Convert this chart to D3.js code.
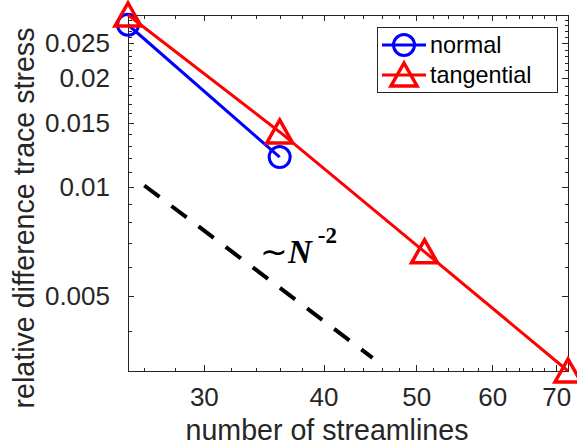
<!DOCTYPE html>
<html>
<head>
<meta charset="utf-8">
<script src="https://cdn.jsdelivr.net/npm/d3@7"></script>
<style>
  body { margin: 0; background: #fff; }
  svg { font-family: "Liberation Sans", Arial, Helvetica, sans-serif; }
  .axis path, .axis line { stroke: #262626; shape-rendering: crispEdges; }
  .axis text { fill: #262626; }
</style>
</head>
<body>
<div id="vis"></div>
<script>
var width = 577;
var height = 448;

// data
var nNormal = [25, 36];
var normalVals = [0.0281, 0.0121];
var nTangential = [25, 36, 51, 72];
var tangentialVals = [0.0299, 0.0142, 0.00662, 0.0031];
// reference slope line ~N^-2
var nGuide = [26, 45];
var guideVals = [0.0101, 0.00337];

// ticks
var xMajor = [30, 40, 50, 60, 70];
var xMinor = [26, 28, 32, 34, 36, 38, 42, 44, 46, 48, 52, 54, 56, 58, 62, 64, 66, 68];
var yMajor = [0.005, 0.01, 0.015, 0.02, 0.025];
var yMinor = [0.004, 0.006, 0.007, 0.008, 0.009, 0.011, 0.012, 0.013, 0.014,
    0.016, 0.017, 0.018, 0.019, 0.021, 0.022, 0.023, 0.024, 0.026, 0.027, 0.028, 0.029];

var plotLeft = 128, plotRight = 568, plotTop = 15, plotBottom = 371;

var x = d3.scaleLog().domain([25, 72]).range([plotLeft, plotRight]);
var y = d3.scaleLog().domain([0.0031, 0.0299]).range([plotBottom, plotTop]);

var svg = d3.select('#vis')
    .append('svg')
    .attr('width', width)
    .attr('height', height);

// box
svg.append('rect')
    .attr('x', plotLeft).attr('y', plotTop)
    .attr('width', plotRight - plotLeft).attr('height', plotBottom - plotTop)
    .attr('fill', 'none').attr('stroke', '#262626')
    .attr('shape-rendering', 'crispEdges');

function addAxis(axis, tx, ty) {
    return svg.append('g')
        .attr('class', 'axis')
        .attr('transform', 'translate(' + tx + ',' + ty + ')')
        .call(axis);
}

// major ticks with labels
addAxis(d3.axisBottom(x).tickValues(xMajor).tickSize(-6).tickSizeOuter(0).tickPadding(17)
    .tickFormat(d3.format('d')), 0, plotBottom)
    .selectAll('text').attr('font-size', 26);
addAxis(d3.axisLeft(y).tickValues(yMajor).tickSize(-6).tickSizeOuter(0).tickPadding(18)
    .tickFormat(function (d) { return String(+d.toFixed(3)); }), plotLeft, 0)
    .selectAll('text').attr('font-size', 26);
addAxis(d3.axisTop(x).tickValues(xMajor).tickSize(-6).tickSizeOuter(0).tickFormat(''), 0, plotTop);
addAxis(d3.axisRight(y).tickValues(yMajor).tickSize(-6).tickSizeOuter(0).tickFormat(''), plotRight, 0);

// minor ticks
addAxis(d3.axisBottom(x).tickValues(xMinor).tickSize(-3.5).tickSizeOuter(0).tickFormat(''), 0, plotBottom);
addAxis(d3.axisTop(x).tickValues(xMinor).tickSize(-3.5).tickSizeOuter(0).tickFormat(''), 0, plotTop);
addAxis(d3.axisLeft(y).tickValues(yMinor).tickSize(-3.5).tickSizeOuter(0).tickFormat(''), plotLeft, 0);
addAxis(d3.axisRight(y).tickValues(yMinor).tickSize(-3.5).tickSizeOuter(0).tickFormat(''), plotRight, 0);

// axis labels
svg.append('text')
    .attr('x', 327).attr('y', 440)
    .attr('text-anchor', 'middle')
    .attr('font-size', 28.6).attr('fill', '#262626')
    .text('number of streamlines');
svg.append('text')
    .attr('transform', 'translate(34,218) rotate(-90)')
    .attr('text-anchor', 'middle')
    .attr('font-size', 28.6).attr('fill', '#262626')
    .text('relative difference trace stress');

var line = d3.line()
    .x(function (d) { return x(d[0]); })
    .y(function (d) { return y(d[1]); });

// guide line
svg.append('path')
    .datum(d3.zip(nGuide, guideVals))
    .attr('d', line)
    .attr('fill', 'none').attr('stroke', '#000')
    .attr('stroke-width', 4)
    .attr('stroke-dasharray', '19,15');

svg.append('text')
    .attr('x', 260).attr('y', 263)
    .attr('font-family', '"Liberation Serif", "Times New Roman", serif')
    .attr('font-size', 33)
    .call(function (t) {
        t.append('tspan').text('\u223C');
        t.append('tspan').attr('font-style', 'italic').attr('font-weight', 'bold').text('N');
        t.append('tspan').attr('font-weight', 'bold').attr('font-size', 23)
            .attr('dx', 6).attr('dy', -20).text('-2');
    });

var series = [
    {name: 'normal', color: '#0000ff', marker: 'circle', pts: d3.zip(nNormal, normalVals)},
    {name: 'tangential', color: '#ff0000', marker: 'triangle', pts: d3.zip(nTangential, tangentialVals)}
];

var triPath = 'M0,-12L13,11L-13,11Z';

function drawMarker(g, s, cx, cy) {
    if (s.marker === 'circle') {
        g.append('circle').attr('cx', cx).attr('cy', cy).attr('r', 10.5)
            .attr('fill', 'none').attr('stroke', s.color).attr('stroke-width', 3);
    } else {
        g.append('path').attr('d', triPath)
            .attr('transform', 'translate(' + cx + ',' + cy + ')')
            .attr('fill', 'none').attr('stroke', s.color).attr('stroke-width', 3.5)
            .attr('stroke-linejoin', 'miter');
    }
}

series.forEach(function (s) {
    var g = svg.append('g');
    g.append('path')
        .datum(s.pts)
        .attr('d', line)
        .attr('fill', 'none').attr('stroke', s.color)
        .attr('stroke-width', 3);
    s.pts.forEach(function (p) {
        drawMarker(g, s, x(p[0]), y(p[1]));
    });
});

// legend
var legend = svg.append('g');
legend.append('rect')
    .attr('x', 377).attr('y', 27).attr('width', 180).attr('height', 65)
    .attr('fill', '#fff').attr('stroke', '#262626')
    .attr('shape-rendering', 'crispEdges');
series.forEach(function (s, i) {
    var ly = 45 + i * 30;
    legend.append('line')
        .attr('x1', 382).attr('x2', 426).attr('y1', ly).attr('y2', ly)
        .attr('stroke', s.color).attr('stroke-width', 3);
    drawMarker(legend, s, 404, ly);
    legend.append('text')
        .attr('x', 430).attr('y', ly)
        .attr('dy', '0.35em')
        .attr('font-size', 23.4).attr('fill', '#000')
        .text(s.name);
});
</script>
</body>
</html>
